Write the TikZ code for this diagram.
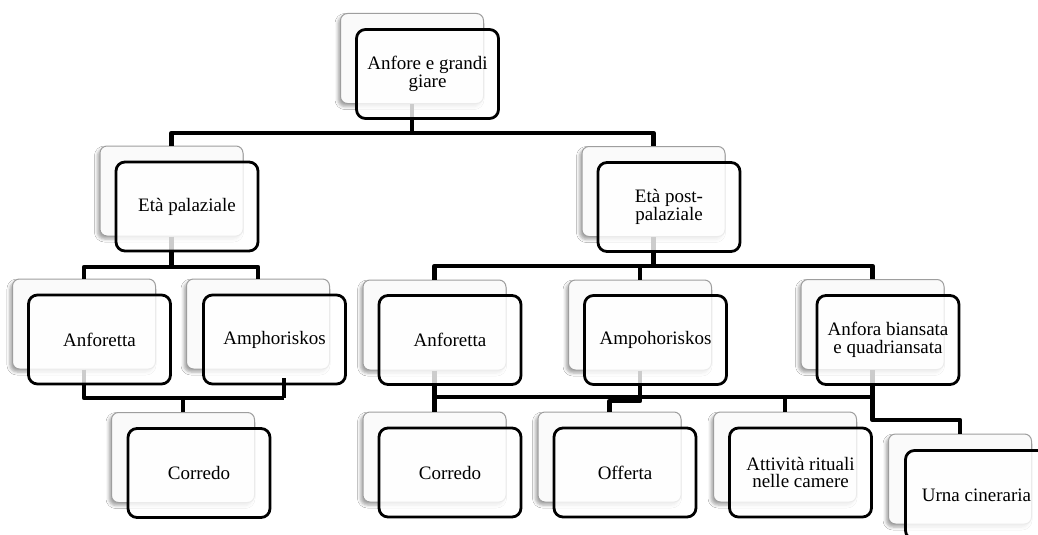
\documentclass[tikz,border=0pt]{standalone}
\usepackage{fontspec}
\setmainfont{Liberation Serif}
\usetikzlibrary{shadows.blur}
\tikzset{
  backbox/.style={draw=black!38, line width=1pt, fill=black!2, rounded corners=7pt,
    minimum width=143pt, minimum height=90pt, inner sep=0pt,
    blur shadow={shadow xshift=-2.5pt, shadow yshift=-3pt, shadow blur radius=3pt, shadow opacity=35}},
  frontbox/.style={draw=black, line width=2.8pt, fill=white, fill opacity=0.8, text opacity=1,
    rounded corners=9pt, minimum width=142pt, minimum height=89pt, inner sep=0pt,
    align=center, font=\fontsize{19}{17.5}\selectfont},
  conn/.style={draw=black, line width=4.5pt, line join=round}
}
\begin{document}
\begin{tikzpicture}[x=1pt, y=-1pt]
\useasboundingbox (0,0) rectangle (1038,535);
\fill[white] (0,0) rectangle (1038,535);

% back boxes
\node[backbox] (topb)  at (412,58.5) {};
\node[backbox] (palb)  at (171.5,191) {};
\node[backbox] (postb) at (653.5,191.5) {};
\node[backbox] (anfAb) at (84,324) {};
\node[backbox] (amphAb) at (258,324) {};
\node[backbox] (anfBb) at (434.5,325) {};
\node[backbox] (amphBb) at (640,325) {};
\node[backbox] (anfbib) at (872.5,324.5) {};
\node[backbox] (corAb) at (183,457.5) {};
\node[backbox] (corBb) at (434.5,457) {};
\node[backbox] (offb)  at (609.5,457) {};
\node[backbox] (attb)  at (785,457) {};
\node[backbox] (urnab) at (960,479) {};

% levels
\coordinate (h1) at (0,133);
\coordinate (h2) at (0,267);
\coordinate (h3) at (0,398);
\coordinate (h4) at (0,266);
\coordinate (h5) at (0,397);
\coordinate (h6) at (0,401);
\coordinate (h7) at (0,420);
\coordinate (stub) at (284,378);

% connectors
\draw[conn] (topb.south) -- (topb.south |- h1);
\draw[conn] (palb.north) -- (palb.north |- h1) -- (postb.north |- h1) -- (postb.north);
\draw[conn] (palb.south) -- (palb.south |- h2);
\draw[conn] (anfAb.north) -- (anfAb.north |- h2) -- (amphAb.north |- h2) -- (amphAb.north);
\draw[conn] (anfAb.south) -- (anfAb.south |- h3) -- (stub |- h3);
\draw[conn] (corAb.north) -- (corAb.north |- h3);
\draw[conn] (postb.south) -- (postb.south |- h4);
\draw[conn] (anfBb.north) -- (anfBb.north |- h4) -- (anfbib.north |- h4) -- (anfbib.north);
\draw[conn] (amphBb.north) -- (amphBb.north |- h4);
\draw[conn] (anfBb.south) -- (corBb.north);
\draw[conn] (anfBb.south |- h5) -- (anfbib.south |- h5);
\draw[conn] (attb.north) -- (attb.north |- h5);
\draw[conn] (amphBb.south) -- (amphBb.south |- h6) -- (offb.north |- h6) -- (offb.north);
\draw[conn] (anfbib.south) -- (anfbib.south |- h7) -- (urnab.north |- h7) -- (urnab.north);

% front boxes
\node[frontbox] (top)  at (427.5,74) {Anfore e grandi\\giare};
\node[frontbox] (pal)  at (187,206.5) {Età palaziale};
\node[frontbox] (post) at (669,207) {Età post-\\palaziale};
\node[frontbox] (anfA) at (99.5,339.5) {Anforetta};
\node[frontbox] (amphA) at (274.5,339.5) {Amphoriskos};
\node[frontbox] (anfB) at (450,340) {Anforetta};
\node[frontbox] (amphB) at (655.5,340) {Ampohoriskos};
\node[frontbox] (anfbi) at (888,340) {Anfora biansata\\e quadriansata};
\node[frontbox] (corA) at (199,473) {Corredo};
\node[frontbox] (corB) at (450,472.5) {Corredo};
\node[frontbox] (off)  at (625,472.5) {Offerta};
\node[frontbox] (att)  at (800.5,472.5) {Attività rituali\\nelle camere};
\node[frontbox] (urna) at (976.5,495) {Urna cineraria};

% stub drawn over the box
\draw[conn] (stub) -- (stub |- h3);
\end{tikzpicture}
\end{document}
